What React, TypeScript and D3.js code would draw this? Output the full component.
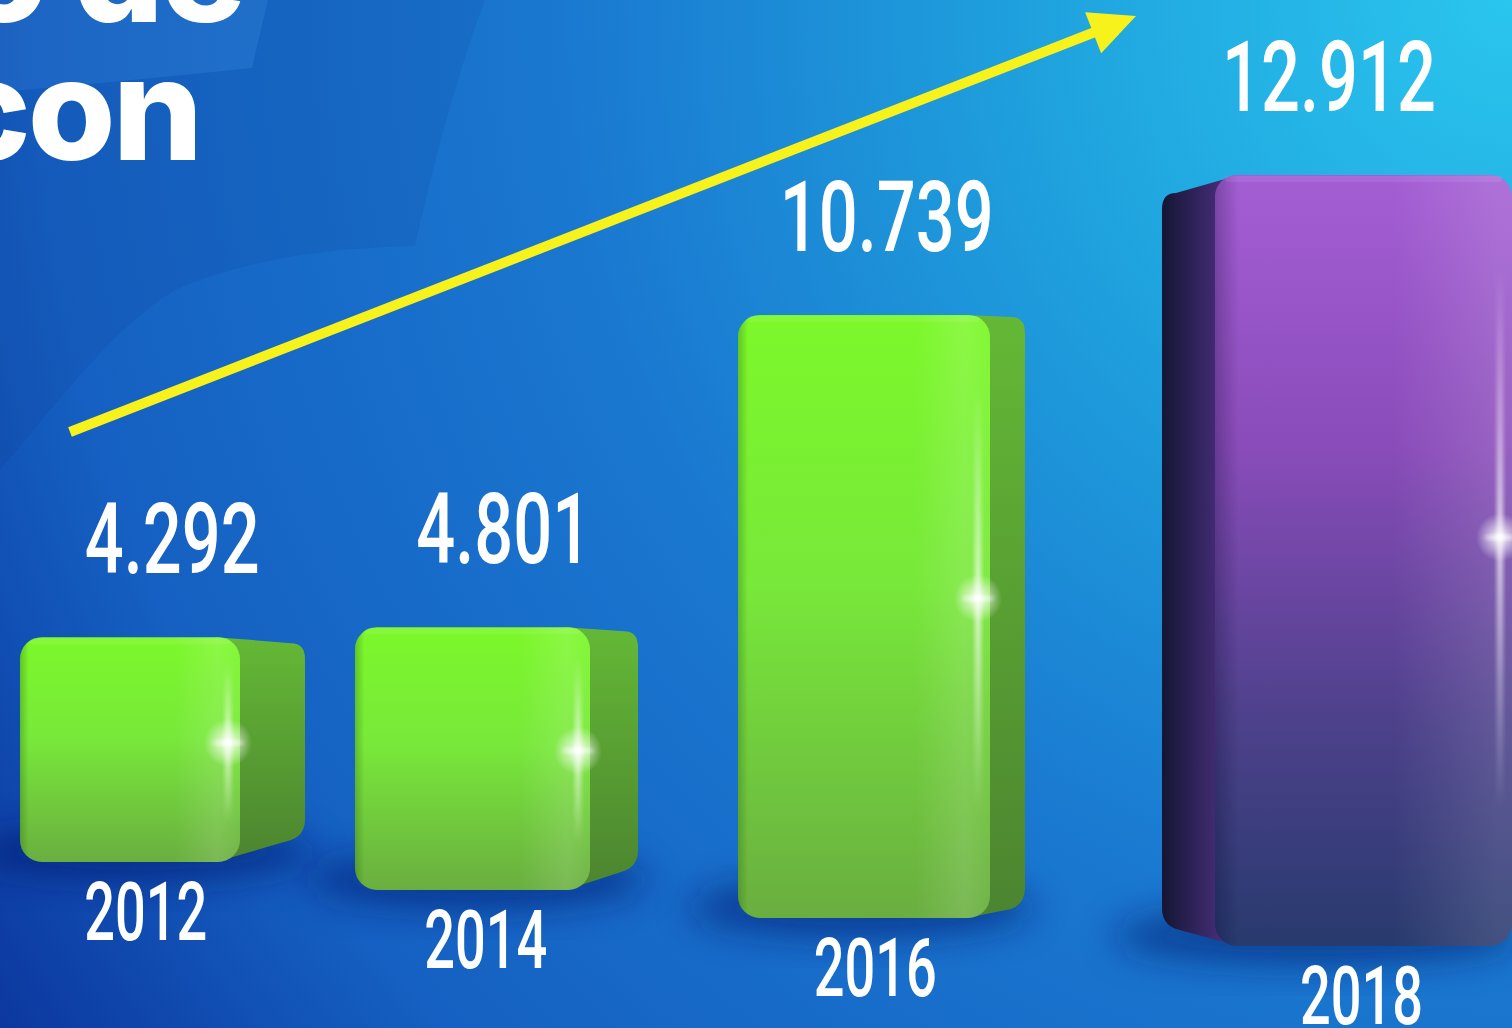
import React from "react";
import * as d3 from "d3";

// ---------- data ----------
const years = ["2012", "2014", "2016", "2018"];
const values = [4.292, 4.801, 10.739, 12.912];
const valueLabels = ["4.292", "4.801", "10.739", "12.912"];
const barThemes = ["green", "green", "green", "purple"];
const headingLines = ["o de", "con"];

// ---------- layout (perspective) ----------
const W = 1512;
const H = 1028;
const idx = d3.range(years.length);
const xLeft = d3.scaleLinear().domain([0, 1, 2, 3]).range([20, 355, 738, 1215]);
const frontW = d3.scaleLinear().domain([0, 1, 2, 3]).range([220, 235, 252, 297]);
const baseY = d3.scaleLinear().domain([0, 3]).range([862, 946]);
const depth = d3.scaleLinear().domain([0, 1, 2, 3]).range([1, 1.045, 1.072, 1.14]);
const yVal = d3.scaleLinear().domain([0, 13]).range([0, 681]);
const sideW = [65, 48, 35, -53];
const sideTopDrop = [6, 4, 2, 18];
const sideBotRise = [27, 24, 14, 22];

const condensed = "Roboto, 'Liberation Sans', sans-serif";

function geom(i: number) {
  const fx = xLeft(i);
  const fw = frontW(i);
  const by = baseY(i);
  const top = by - yVal(values[i]) * depth(i);
  const sw = sideW[i];
  const minX = Math.min(fx, fx + sw);
  const maxX = Math.max(fx + fw, fx + fw + sw);
  return { fx, fw, by, top, sw, minX, maxX };
}

function sidePath(i: number) {
  const g = geom(i);
  const dt = sideTopDrop[i];
  const db = sideBotRise[i];
  const p = d3.path();
  const s = g.sw > 0 ? 1 : -1;
  const x0 = g.sw > 0 ? g.fx + g.fw - 24 : g.fx + 24;
  const x1 = g.sw > 0 ? g.fx + g.fw + g.sw : g.fx + g.sw;
  p.moveTo(x0, g.top);
  p.lineTo(x1 - s * 14, g.top + dt);
  p.quadraticCurveTo(x1, g.top + dt, x1, g.top + dt + 16);
  p.lineTo(x1, g.by - db - 16);
  p.quadraticCurveTo(x1, g.by - db, x1 - s * 14, g.by - db + 5);
  p.lineTo(x0, g.by);
  p.closePath();
  return p.toString();
}

// arrow
const arrowStart: [number, number] = [70, 432];
const arrowTip: [number, number] = [1136, 16];

export default function App() {
  const dx = arrowTip[0] - arrowStart[0];
  const dy = arrowTip[1] - arrowStart[1];
  const len = Math.hypot(dx, dy);
  const ux = dx / len, uy = dy / len;
  const px = -uy, py = ux;
  const headL = 46, headHW = 22;
  const bx = arrowTip[0] - ux * headL, by = arrowTip[1] - uy * headL;
  const shaftEnd: [number, number] = [bx + ux * 4, by + uy * 4];
  const line = d3.line();

  return (
    <svg width={W} height={H} viewBox={`0 0 ${W} ${H}`} style={{ display: "block", position: "absolute", left: 0, top: 0 }}>
      <defs>
        <radialGradient id="bg" gradientUnits="userSpaceOnUse" cx={1512} cy={0} r={1900}>
          <stop offset="0" stopColor="#2ac6ee" />
          <stop offset="0.25" stopColor="#1fa2de" />
          <stop offset="0.5" stopColor="#1a78d0" />
          <stop offset="0.78" stopColor="#1560c2" />
          <stop offset="1" stopColor="#0a2f98" />
        </radialGradient>
        <linearGradient id="greenFront" x1="0" y1="0" x2="0" y2="1">
          <stop offset="0" stopColor="#7cf82a" />
          <stop offset="0.45" stopColor="#78e83a" />
          <stop offset="1" stopColor="#6aae40" />
        </linearGradient>
        <linearGradient id="greenSide" x1="0" y1="0" x2="0" y2="1">
          <stop offset="0" stopColor="#64b836" />
          <stop offset="1" stopColor="#4c8430" />
        </linearGradient>
        <linearGradient id="greenShade" x1="0" y1="0" x2="1" y2="0">
          <stop offset="0" stopColor="#2e6a10" stopOpacity="0.35" />
          <stop offset="0.04" stopColor="#2e6a10" stopOpacity="0" />
          <stop offset="0.7" stopColor="#ffffff" stopOpacity="0" />
          <stop offset="0.9" stopColor="#ffffff" stopOpacity="0.12" />
          <stop offset="1" stopColor="#ffffff" stopOpacity="0.05" />
        </linearGradient>
        <linearGradient id="purpleFront" x1="0" y1="0" x2="0" y2="1">
          <stop offset="0" stopColor="#a45ed4" />
          <stop offset="0.35" stopColor="#8a4cba" />
          <stop offset="0.7" stopColor="#4e418c" />
          <stop offset="1" stopColor="#283a6e" />
        </linearGradient>
        <linearGradient id="purpleSide" x1="0" y1="0" x2="1" y2="0">
          <stop offset="0" stopColor="#141634" />
          <stop offset="0.6" stopColor="#3a2868" />
          <stop offset="1" stopColor="#5a3490" />
        </linearGradient>
        <linearGradient id="purpleShade" x1="0" y1="0" x2="1" y2="0">
          <stop offset="0" stopColor="#000020" stopOpacity="0.25" />
          <stop offset="0.08" stopColor="#000020" stopOpacity="0" />
          <stop offset="0.6" stopColor="#ffffff" stopOpacity="0" />
          <stop offset="0.95" stopColor="#ffffff" stopOpacity="0.12" />
        </linearGradient>
        <radialGradient id="sparkle">
          <stop offset="0" stopColor="#ffffff" stopOpacity="1" />
          <stop offset="0.25" stopColor="#ffffff" stopOpacity="0.7" />
          <stop offset="1" stopColor="#ffffff" stopOpacity="0" />
        </radialGradient>
        <linearGradient id="streak" x1="0" y1="0" x2="0" y2="1">
          <stop offset="0" stopColor="#ffffff" stopOpacity="0" />
          <stop offset="0.5" stopColor="#ffffff" stopOpacity="0.75" />
          <stop offset="1" stopColor="#ffffff" stopOpacity="0" />
        </linearGradient>
        <filter id="blur" x="-50%" y="-50%" width="200%" height="200%">
          <feGaussianBlur stdDeviation="18" />
        </filter>
        <filter id="soft" x="-50%" y="-50%" width="200%" height="200%">
          <feGaussianBlur stdDeviation="2" />
        </filter>
      </defs>

      <rect x={0} y={0} width={W} height={H} fill="url(#bg)" />
      {/* background decorative shapes */}
      <path d="M0,0 L268,0 L252,68 Q140,80 0,92 Z" fill="#ffffff" opacity={0.035} />
      <path d="M268,0 L485,0 C455,80 432,170 415,246 C330,248 250,258 175,290 C110,330 60,400 0,470 L0,92 Q140,80 252,68 Z" fill="#06206e" opacity={0.09} />

      {/* heading */}
      {headingLines.map((t, k) => (
        <text
          key={t}
          x={k === 0 ? 243 : 200}
          y={k === 0 ? 22 : 160}
          textAnchor="end"
          fill="#ffffff"
          fontFamily="Inter, 'Open Sans', sans-serif"
          fontWeight={800}
          fontSize={142}
          letterSpacing={-3}
        >
          {t}
        </text>
      ))}

      {/* arrow */}
      <path d={line([arrowStart, shaftEnd]) || ""} stroke="#f8f21c" strokeWidth={10} fill="none" />
      <path
        d={`M${arrowTip[0]},${arrowTip[1]} L${bx + px * headHW},${by + py * headHW} L${bx - px * headHW},${by - py * headHW} Z`}
        fill="#f8f21c"
      />

      {/* floor shadows */}
      {idx.map((i) => {
        const g = geom(i);
        return (
          <ellipse
            key={"sh" + i}
            cx={(g.minX + g.maxX) / 2 - 20}
            cy={g.by - 10}
            rx={(g.maxX - g.minX) / 2 + 30}
            ry={30}
            fill="#06186a"
            opacity={0.55}
            filter="url(#blur)"
          />
        );
      })}

      {/* bars */}
      {idx.map((i) => {
        const g = geom(i);
        const th = barThemes[i];
        const sx = g.fx + g.fw - 12;
        const sy = g.top + (g.by - g.top) * 0.47;
        return (
          <g key={"bar" + i}>
            <path d={sidePath(i)} fill={`url(#${th}Side)`} />
            <rect x={g.fx} y={g.top} width={g.fw} height={g.by - g.top} rx={22} fill={`url(#${th}Front)`} />
            <rect x={g.fx} y={g.top} width={g.fw} height={g.by - g.top} rx={22} fill={`url(#${th}Shade)`} />
            <rect x={g.fx + 10} y={g.top + 1} width={g.fw - 20} height={6} rx={3} fill="#ffffff" opacity={0.08} />
            {/* sparkle */}
            <rect x={sx - 3} y={sy - (g.by - g.top) * 0.35} width={6} height={(g.by - g.top) * 0.7} fill="url(#streak)" filter="url(#soft)" />
            <circle cx={sx} cy={sy} r={24} fill="url(#sparkle)" />
            <ellipse cx={sx} cy={sy} rx={16} ry={2} fill="#ffffff" opacity={0.8} filter="url(#soft)" />
          </g>
        );
      })}

      {/* value labels */}
      {idx.map((i) => {
        const g = geom(i);
        return (
          <text
            key={"v" + i}
            transform={`translate(${(g.minX + g.maxX) / 2 + 0.15 * g.sw},${g.top - 64}) scale(0.7,1)`}
            textAnchor="middle"
            fill="#ffffff"
            fontFamily={condensed}
            fontWeight={500}
            fontSize={98}
          >
            {valueLabels[i]}
          </text>
        );
      })}

      {/* year labels */}
      {idx.map((i) => {
        const g = geom(i);
        return (
          <text
            key={"y" + i}
            transform={`translate(${g.fx + g.fw / 2 + 0.15 * g.sw + 6},${g.by + 78}) scale(0.66,1)`}
            textAnchor="middle"
            fill="#ffffff"
            fontFamily={condensed}
            fontWeight={500}
            fontSize={82}
          >
            {years[i]}
          </text>
        );
      })}
    </svg>
  );
}
